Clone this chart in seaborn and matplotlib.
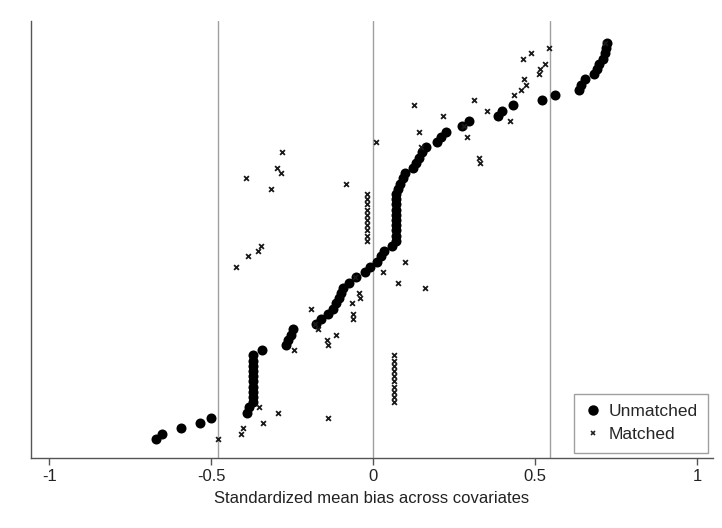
import matplotlib
matplotlib.use("Agg")
import matplotlib.pyplot as plt
import seaborn as sns
import pandas as pd
from matplotlib.lines import Line2D

# Standardized mean bias per covariate (sorted by unmatched bias)
unmatched = [
    -0.670, -0.653, -0.593, -0.536, -0.502, -0.388, -0.384,
    -0.372, -0.372, -0.372, -0.372, -0.372, -0.372, -0.372, -0.372, -0.372, -0.372,
    -0.344, -0.270, -0.263, -0.253, -0.246, -0.176, -0.160, -0.138, -0.125, -0.116,
    -0.106, -0.099, -0.092, -0.075, -0.053, -0.024, -0.010, 0.013, 0.023, 0.033, 0.058,
    0.071, 0.071, 0.071, 0.071, 0.071, 0.071, 0.071, 0.071, 0.071, 0.071,
    0.076, 0.083, 0.091, 0.099, 0.122, 0.132, 0.143, 0.150, 0.162, 0.198, 0.209,
    0.226, 0.275, 0.296, 0.385, 0.399, 0.431, 0.521, 0.561, 0.636, 0.642, 0.653,
    0.681, 0.690, 0.697, 0.711, 0.716, 0.720, 0.722,
]
matched = [
    -0.479, -0.408, -0.402, -0.341, -0.139, -0.294, -0.351,
    0.064, 0.064, 0.064, 0.064, 0.064, 0.064, 0.064, 0.064, 0.064, 0.064,
    -0.244, -0.139, -0.142, -0.114, -0.170, -0.180, -0.061, -0.062, -0.192, -0.064,
    -0.040, -0.045, 0.159, 0.078, -0.055, 0.031, -0.422, 0.097, -0.386, -0.355, -0.345,
    -0.018, -0.018, -0.018, -0.018, -0.018, -0.018, -0.018, -0.018, -0.018, -0.018,
    -0.315, -0.085, -0.394, -0.284, -0.298, 0.330, 0.327, -0.281, 0.149, 0.010, 0.290,
    0.142, 0.280, 0.423, 0.217, 0.352, 0.125, 0.310, 0.436, 0.457, 0.472, 0.465,
    0.511, 0.514, 0.530, 0.462, 0.487, 0.544, 0.715,
]
ref_lines = [-0.478, 0.0, 0.546]
xticks = [-1, -0.5, 0, 0.5, 1]
xtick_labels = ["-1", "-0.5", "0", "0.5", "1"]

rank = list(range(len(unmatched)))
df_u = pd.DataFrame({"bias": unmatched, "rank": rank})
df_m = pd.DataFrame({"bias": matched, "rank": rank})

sns.set_style("white")
plt.rcParams["font.family"] = ["Liberation Sans", "DejaVu Sans"]

fig = plt.figure(figsize=(7.22, 5.28), dpi=100)
ax = fig.add_axes([0.043, 0.1326, 0.9445, 0.8274])

for xv in ref_lines:
    ax.axvline(xv, color="#a0a0a0", lw=1.0, zorder=1)

sns.scatterplot(data=df_u, x="bias", y="rank", ax=ax, marker="o", s=52,
                color="black", edgecolor="black", linewidth=0, zorder=3, legend=False)
sns.scatterplot(data=df_m, x="bias", y="rank", ax=ax, marker="x", s=12,
                color="#1a1a1a", linewidth=1.3, zorder=4, legend=False)

ax.set_xlim(-1.056, 1.049)
ax.set_ylim(-3.7, 80.2)
ax.set_yticks([])
ax.set_ylabel("")
ax.set_xticks(xticks)
ax.set_xticklabels(xtick_labels, fontsize=12, color="#222222")
ax.set_xlabel("Standardized mean bias across covariates", fontsize=12,
              color="#222222", labelpad=5)
ax.tick_params(axis="x", direction="out", length=5, width=1, color="#555555", pad=3,
               bottom=True)

for side in ["top", "right"]:
    ax.spines[side].set_visible(False)
for side in ["left", "bottom"]:
    ax.spines[side].set_color("#555555")
    ax.spines[side].set_linewidth(1.0)

handles = [
    Line2D([], [], marker="o", color="black", linestyle="", markersize=6.5),
    Line2D([], [], marker="x", color="#222222", linestyle="", markersize=3.5, markeredgewidth=1.2),
]
leg = ax.legend(handles, ["Unmatched", "Matched"], loc="lower right",
                bbox_to_anchor=(1.0, 0.0), fontsize=12.5, frameon=True,
                fancybox=False, handletextpad=0.4, handlelength=1.0,
                borderpad=0.6, labelspacing=0.45, borderaxespad=0.3)
leg.get_frame().set_edgecolor("#888888")
leg.get_frame().set_linewidth(1.0)

fig.savefig("out.png", dpi=100, facecolor="white")
